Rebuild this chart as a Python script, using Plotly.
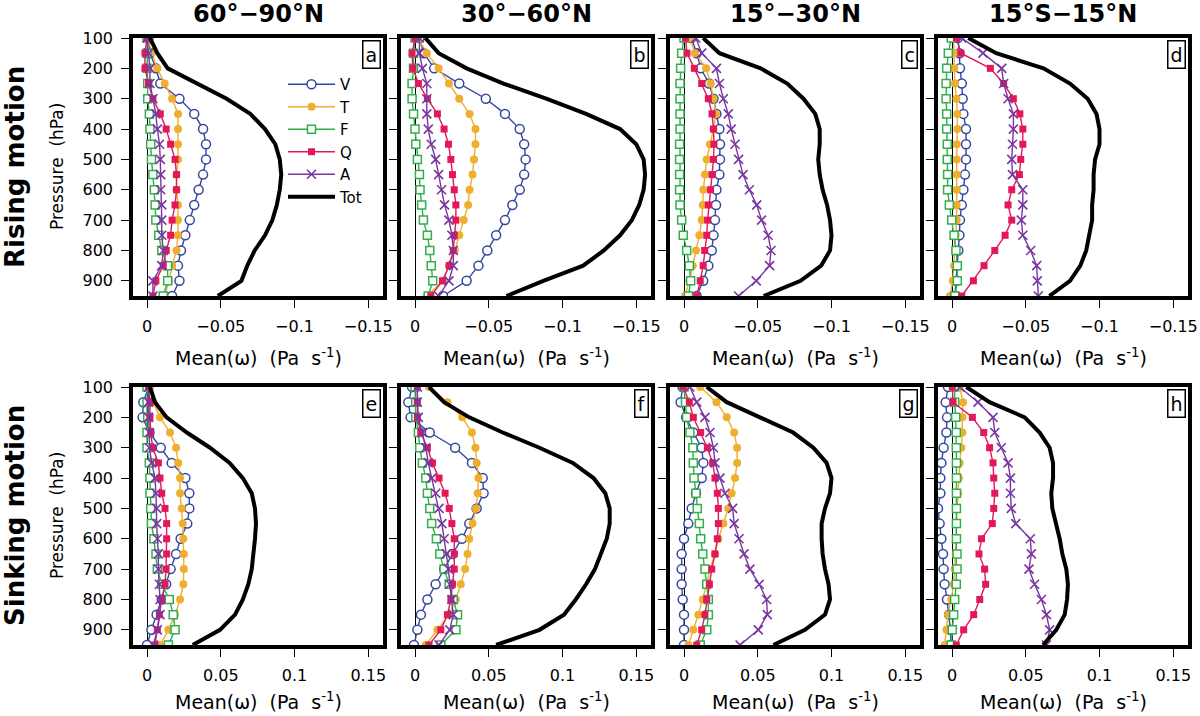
import plotly.graph_objects as go
from plotly.subplots import make_subplots

# pressure levels (hPa)
levels = [100, 150, 200, 250, 300, 350, 400, 450, 500, 550, 600, 650, 700, 750, 800, 850, 900, 950]

# --- Rising motion (Pa s-1, negative) ---
a_V = [-0.001, -0.002, -0.006, -0.009, -0.022, -0.032, -0.038, -0.040, -0.040, -0.038, -0.035, -0.032, -0.029, -0.026, -0.023, -0.021, -0.022, -0.017]
a_T = [-0.001, -0.003, -0.007, -0.012, -0.017, -0.021, -0.021, -0.021, -0.021, -0.020, -0.020, -0.021, -0.021, -0.021, -0.020, -0.017, -0.015, -0.012]
a_F = [0.0, 0.0, 0.0, -0.0005, -0.0005, -0.0016, -0.002, -0.0025, -0.003, -0.004, -0.005, -0.0055, -0.006, -0.008, -0.010, -0.014, -0.014, -0.011]
a_Q = [0.0, 0.0014, 0.0014, -0.001, -0.004, -0.009, -0.013, -0.016, -0.019, -0.020, -0.020, -0.019, -0.017, -0.016, -0.013, -0.011, -0.006, -0.004]
a_A = [0.0, -0.001, -0.002, -0.002, -0.004, -0.006, -0.007, -0.0085, -0.009, -0.0093, -0.0093, -0.010, -0.010, -0.010, -0.011, -0.010, -0.004, -0.004]
a_Tot = [-0.002, -0.007, -0.014, -0.034, -0.054, -0.070, -0.080, -0.087, -0.090, -0.091, -0.090, -0.088, -0.085, -0.080, -0.073, -0.068, -0.064, -0.048]

b_V = [-0.003, -0.006, -0.013, -0.030, -0.048, -0.061, -0.071, -0.074, -0.075, -0.074, -0.071, -0.066, -0.061, -0.055, -0.049, -0.043, -0.035, -0.019]
b_T = [-0.002, -0.008, -0.016, -0.023, -0.030, -0.037, -0.041, -0.041, -0.040, -0.039, -0.037, -0.036, -0.033, -0.030, -0.027, -0.023, -0.019, -0.008]
b_F = [0.0, 0.001, 0.001, 0.002, 0.002, 0.001, 0.0, -0.0005, -0.0016, -0.003, -0.0034, -0.0045, -0.0057, -0.0084, -0.010, -0.011, -0.012, -0.009]
b_Q = [0.0, 0.002, 0.0014, -0.0023, -0.0084, -0.0152, -0.0197, -0.0227, -0.0243, -0.0254, -0.0266, -0.0277, -0.0277, -0.0266, -0.0259, -0.0232, -0.0186, -0.0107]
b_A = [-0.003, -0.003, -0.005, -0.008, -0.008, -0.008, -0.009, -0.011, -0.014, -0.016, -0.018, -0.020, -0.023, -0.025, -0.026, -0.026, -0.023, -0.016]
b_Tot = [-0.007, -0.016, -0.035, -0.060, -0.089, -0.116, -0.139, -0.150, -0.155, -0.156, -0.155, -0.152, -0.147, -0.139, -0.128, -0.114, -0.087, -0.062]

c_V = [-0.005, -0.0086, -0.0113, -0.017, -0.020, -0.022, -0.024, -0.0244, -0.0244, -0.024, -0.022, -0.0217, -0.021, -0.020, -0.0188, -0.0165, -0.013, -0.0086]
c_T = [-0.004, -0.0075, -0.015, -0.018, -0.020, -0.0217, -0.020, -0.0176, -0.0154, -0.0142, -0.0131, -0.0127, -0.012, -0.0104, -0.0081, -0.0059, -0.0036, -0.0007]
c_F = [0.0, 0.0016, 0.0023, 0.0027, 0.0027, 0.0027, 0.0027, 0.003, 0.003, 0.003, 0.003, 0.0027, 0.0016, 0.0005, -0.0018, -0.0036, -0.0045, -0.003]
c_Q = [-0.001, -0.002, -0.007, -0.012, -0.0165, -0.019, -0.020, -0.0203, -0.020, -0.019, -0.018, -0.0165, -0.016, -0.0154, -0.014, -0.013, -0.011, -0.0086]
c_A = [-0.008, -0.012, -0.022, -0.024, -0.0267, -0.030, -0.032, -0.0346, -0.037, -0.040, -0.0443, -0.0493, -0.0526, -0.057, -0.059, -0.058, -0.049, -0.037]
c_Tot = [-0.013, -0.024, -0.052, -0.070, -0.081, -0.089, -0.092, -0.092, -0.091, -0.092, -0.094, -0.097, -0.099, -0.100, -0.099, -0.093, -0.079, -0.054]

d_V = [-0.004, -0.005, -0.0054, -0.0066, -0.0072, -0.0077, -0.0095, -0.0095, -0.0095, -0.0088, -0.0077, -0.0066, -0.0054, -0.005, -0.0043, -0.0032, -0.003, -0.002]
d_T = [-0.001, -0.0015, -0.0015, -0.002, -0.003, -0.0036, -0.0036, -0.0032, -0.0032, -0.0032, -0.0032, -0.0032, -0.0032, -0.0025, -0.002, -0.0014, -0.0005, 0.0014]
d_F = [0.0005, 0.0025, 0.0036, 0.004, 0.004, 0.0036, 0.0036, 0.0032, 0.0032, 0.003, 0.003, 0.0018, 0.0002, -0.0014, -0.0027, -0.0036, -0.0036, -0.002]
d_Q = [-0.003, -0.006, -0.026, -0.035, -0.0416, -0.046, -0.048, -0.048, -0.0466, -0.0457, -0.0405, -0.038, -0.0405, -0.036, -0.029, -0.0217, -0.0145, -0.0066]
d_A = [-0.0066, -0.021, -0.0337, -0.035, -0.038, -0.0416, -0.0416, -0.041, -0.0405, -0.041, -0.048, -0.048, -0.047, -0.048, -0.0533, -0.0574, -0.0578, -0.0585]
d_Tot = [-0.011, -0.030, -0.062, -0.080, -0.092, -0.098, -0.100, -0.100, -0.097, -0.096, -0.096, -0.095, -0.095, -0.093, -0.091, -0.087, -0.080, -0.066]

# --- Sinking motion (Pa s-1, positive) ---
e_V = [0.001, -0.0025, -0.003, 0.0016, 0.0093, 0.0167, 0.026, 0.0287, 0.0287, 0.0273, 0.0228, 0.0197, 0.016, 0.013, 0.010, 0.0065, 0.003, 0.0]
e_T = [0.002, 0.0043, 0.0088, 0.0156, 0.0197, 0.0212, 0.0224, 0.0224, 0.0235, 0.0242, 0.0246, 0.025, 0.025, 0.0246, 0.0224, 0.019, 0.0145, 0.0088]
e_F = [0.0, 0.0, 0.0005, 0.0, 0.0, 0.0016, 0.002, 0.002, 0.0025, 0.003, 0.0047, 0.0061, 0.007, 0.010, 0.0151, 0.0178, 0.019, 0.0145]
e_Q = [0.001, 0.002, 0.002, 0.0025, 0.0038, 0.0077, 0.0088, 0.010, 0.0122, 0.0133, 0.0133, 0.0133, 0.0129, 0.0122, 0.010, 0.0084, 0.007, 0.0054]
e_A = [0.001, 0.001, 0.001, 0.0016, 0.0016, 0.0032, 0.0054, 0.0061, 0.0066, 0.0066, 0.007, 0.0077, 0.0077, 0.0084, 0.0088, 0.0088, 0.007, 0.0043]
e_Tot = [0.002, 0.0054, 0.0133, 0.027, 0.0427, 0.056, 0.065, 0.071, 0.0732, 0.0739, 0.0732, 0.072, 0.071, 0.0687, 0.065, 0.0597, 0.0495, 0.031]

f_V = [-0.002, -0.0045, -0.003, 0.010, 0.0272, 0.0386, 0.0459, 0.0465, 0.0418, 0.0368, 0.0318, 0.0254, 0.0198, 0.014, 0.0084, 0.004, 0.0016, -0.0007]
f_T = [0.0095, 0.022, 0.032, 0.0386, 0.041, 0.0418, 0.043, 0.0425, 0.0413, 0.039, 0.0368, 0.0356, 0.034, 0.031, 0.0277, 0.0232, 0.0152, 0.0073]
f_F = [0.0, 0.0005, 0.0005, 0.0023, 0.0032, 0.005, 0.0073, 0.0084, 0.010, 0.0113, 0.0145, 0.0168, 0.0197, 0.0232, 0.0259, 0.0288, 0.0277, 0.0175]
f_Q = [0.0016, 0.0016, 0.0016, 0.0039, 0.0084, 0.0118, 0.0163, 0.0204, 0.0232, 0.025, 0.0266, 0.0266, 0.0266, 0.0254, 0.0243, 0.022, 0.0175, 0.0095]
f_A = [0.0016, 0.0016, 0.0023, 0.005, 0.0073, 0.009, 0.0113, 0.0141, 0.0163, 0.0182, 0.0197, 0.0213, 0.0227, 0.0236, 0.025, 0.0259, 0.0236, 0.0163]
f_Tot = [0.0095, 0.0197, 0.0368, 0.0595, 0.0844, 0.107, 0.121, 0.129, 0.132, 0.132, 0.130, 0.126, 0.122, 0.116, 0.109, 0.101, 0.0844, 0.055]

g_V = [-0.001, -0.0023, 0.0014, 0.0063, 0.012, 0.0131, 0.012, 0.0081, 0.0052, 0.0029, 0.0, -0.0016, -0.0016, -0.0016, -0.0009, 0.0, 0.0, 0.0]
g_T = [0.011, 0.022, 0.029, 0.034, 0.036, 0.036, 0.0346, 0.0323, 0.030, 0.0267, 0.0233, 0.021, 0.0176, 0.0154, 0.0127, 0.0097, 0.0063, 0.003]
g_F = [0.0, 0.001, 0.0018, 0.004, 0.006, 0.0063, 0.0068, 0.0081, 0.009, 0.0104, 0.0113, 0.0127, 0.0142, 0.0154, 0.0165, 0.0165, 0.0154, 0.011]
g_Q = [-0.0005, 0.0036, 0.0063, 0.0113, 0.0158, 0.0194, 0.021, 0.0226, 0.0233, 0.0233, 0.0226, 0.021, 0.0188, 0.0172, 0.0154, 0.0142, 0.012, 0.0086]
g_A = [0.004, 0.0086, 0.0142, 0.0176, 0.0199, 0.021, 0.0244, 0.0278, 0.033, 0.034, 0.0373, 0.0407, 0.0447, 0.051, 0.056, 0.0565, 0.0504, 0.038]
g_Tot = [0.0154, 0.029, 0.0515, 0.074, 0.0877, 0.0967, 0.100, 0.099, 0.0956, 0.0933, 0.0933, 0.094, 0.0956, 0.098, 0.099, 0.0956, 0.082, 0.0606]

h_V = [-0.0027, -0.0043, -0.0034, -0.0038, -0.0057, -0.0072, -0.0079, -0.0079, -0.0095, -0.0084, -0.0072, -0.0061, -0.0057, -0.005, -0.0034, -0.002, -0.0011, -0.0005]
h_T = [0.0052, 0.0075, 0.007, 0.007, 0.0063, 0.0052, 0.0047, 0.0041, 0.0034, 0.0029, 0.0029, 0.0025, 0.0018, 0.0011, -0.0005, -0.0027, -0.0038, -0.005]
h_F = [0.0018, 0.0018, 0.0025, 0.0029, 0.0029, 0.003, 0.003, 0.003, 0.003, 0.003, 0.003, 0.0034, 0.0034, 0.0029, 0.0018, 0.0011, 0.0002, -0.0005]
h_Q = [0.0002, 0.0007, 0.0138, 0.0215, 0.0255, 0.0278, 0.0283, 0.029, 0.0283, 0.0273, 0.020, 0.0183, 0.0221, 0.0228, 0.0188, 0.0147, 0.0079, 0.0029]
h_A = [0.0052, 0.0176, 0.0278, 0.029, 0.0334, 0.038, 0.0396, 0.0396, 0.0402, 0.0432, 0.0531, 0.0538, 0.0522, 0.056, 0.0606, 0.064, 0.0662, 0.064]
h_Tot = [0.0097, 0.0255, 0.0493, 0.0594, 0.0662, 0.0685, 0.0685, 0.0673, 0.068, 0.0707, 0.073, 0.0748, 0.0775, 0.0786, 0.078, 0.0764, 0.0707, 0.0617]

col_titles = ["60°−90°N", "30°−60°N", "15°−30°N", "15°S−15°N"]
row_titles = ["Rising motion", "Sinking motion"]
panel_letters = ["a", "b", "c", "d", "e", "f", "g", "h"]
y_ticks = [100, 200, 300, 400, 500, 600, 700, 800, 900]
x_ticks_rise = [0, -0.05, -0.1, -0.15]
x_ticks_sink = [0, 0.05, 0.1, 0.15]

panels = [
    [a_V, a_T, a_F, a_Q, a_A, a_Tot], [b_V, b_T, b_F, b_Q, b_A, b_Tot],
    [c_V, c_T, c_F, c_Q, c_A, c_Tot], [d_V, d_T, d_F, d_Q, d_A, d_Tot],
    [e_V, e_T, e_F, e_Q, e_A, e_Tot], [f_V, f_T, f_F, f_Q, f_A, f_Tot],
    [g_V, g_T, g_F, g_Q, g_A, g_Tot], [h_V, h_T, h_F, h_Q, h_A, h_Tot],
]

names = ["V", "T", "F", "Q", "A", "Tot"]
colors = ["#33479e", "#f0ae2e", "#2fb04a", "#e2185a", "#7a36a0", "black"]

FONT = "DejaVu Sans"
W, H = 1200, 716

# panel pixel boxes
col_px = [(133, 383), (401, 651), (670, 920), (938, 1188)]
row_px = [(38, 296), (387, 645)]
xtitle_gap = [61, 56]

fig = make_subplots(rows=2, cols=4)

def style(i):
    c = colors[i]
    if names[i] == "V":
        return dict(mode="lines+markers", line=dict(color=c, width=1.4),
                    marker=dict(symbol="circle", size=9, color="white", line=dict(color=c, width=1.5)))
    if names[i] == "T":
        return dict(mode="lines+markers", line=dict(color=c, width=1.4),
                    marker=dict(symbol="circle", size=8, color=c))
    if names[i] == "F":
        return dict(mode="lines+markers", line=dict(color=c, width=1.4),
                    marker=dict(symbol="square", size=8, color="white", line=dict(color=c, width=1.5)))
    if names[i] == "Q":
        return dict(mode="lines+markers", line=dict(color=c, width=1.4),
                    marker=dict(symbol="square", size=7, color=c))
    if names[i] == "A":
        return dict(mode="lines+markers", line=dict(color=c, width=1.4),
                    marker=dict(symbol="x-thin-open", size=9, color=c, line=dict(color=c, width=1.6)))
    return dict(mode="lines", line=dict(color=c, width=4))

for k, series in enumerate(panels):
    r, cc = k // 4 + 1, k % 4 + 1
    for i, vals in enumerate(series):
        fig.add_trace(go.Scatter(x=vals, y=levels, name=names[i], showlegend=(k == 0),
                                 **style(i)), row=r, col=cc)

annotations = []
for k in range(8):
    r, cc = k // 4, k % 4
    x0, x1 = col_px[cc]
    y0, y1 = row_px[r]
    xd = [x0 / W, x1 / W]
    yd = [1 - y1 / H, 1 - y0 / H]
    rise = r == 0
    fig.update_xaxes(row=r + 1, col=cc + 1, domain=xd, automargin=False,
                     range=[0.0095, -0.16] if rise else [-0.0095, 0.16],
                     tickvals=x_ticks_rise if rise else x_ticks_sink,
                     ticks="outside", ticklen=8, tickwidth=1.2, tickcolor="black", ticklabelstandoff=5,
                     showline=True, linewidth=3.5, linecolor="black", mirror=True,
                     showgrid=False, zeroline=True, zerolinecolor="black", zerolinewidth=1,
                     tickfont=dict(family=FONT, size=16, color="black"))
    fig.update_yaxes(row=r + 1, col=cc + 1, domain=yd, range=[950, 100], automargin=False,
                     tickvals=y_ticks, showticklabels=(cc == 0),
                     ticks="outside", ticklen=8, tickwidth=1.2, tickcolor="black", ticklabelstandoff=5,
                     showline=True, linewidth=3.5, linecolor="black", mirror=True,
                     showgrid=False, zeroline=False,
                     tickfont=dict(family=FONT, size=16, color="black"))
    # panel letter box
    annotations.append(dict(text=panel_letters[k], x=x1 / W, y=1 - y0 / H, xref="paper", yref="paper",
                            xanchor="right", yanchor="top", xshift=-2, yshift=-2, showarrow=False,
                            bgcolor="white", bordercolor="black", borderwidth=1.5, borderpad=2,
                            font=dict(family=FONT, size=19, color="black")))
    # x axis title
    annotations.append(dict(text="Mean(ω)  (Pa  s<sup>-1</sup>)", x=(x0 + x1) / 2 / W,
                            y=1 - (y1 + xtitle_gap[r]) / H, xref="paper", yref="paper", showarrow=False,
                            xanchor="center", yanchor="middle",
                            font=dict(family=FONT, size=19, color="black")))

for cc, t in enumerate(col_titles):
    x0, x1 = col_px[cc]
    annotations.append(dict(text="<b>" + t + "</b>", x=(x0 + x1) / 2 / W, y=1 - 14 / H,
                            xref="paper", yref="paper", showarrow=False, xanchor="center",
                            yanchor="middle", font=dict(family=FONT, size=24, color="black")))

for r, t in enumerate(row_titles):
    y0, y1 = row_px[r]
    annotations.append(dict(text="<b>" + t + "</b>", x=15 / W, y=1 - (y0 + y1) / 2 / H,
                            xref="paper", yref="paper", showarrow=False, textangle=-90,
                            xanchor="center", yanchor="middle",
                            font=dict(family=FONT, size=26, color="black")))
    annotations.append(dict(text="Pressure  (hPa)", x=57 / W, y=1 - (y0 + y1) / 2 / H,
                            xref="paper", yref="paper", showarrow=False, textangle=-90,
                            xanchor="center", yanchor="middle",
                            font=dict(family=FONT, size=17, color="black")))

fig.update_layout(
    width=W, height=H, margin=dict(l=0, r=0, t=0, b=0, autoexpand=False),
    paper_bgcolor="white", plot_bgcolor="white",
    annotations=annotations,
    legend=dict(x=283 / W, y=1 - 68 / H, xanchor="left", yanchor="top",
                bgcolor="rgba(0,0,0,0)", borderwidth=0, tracegroupgap=0, itemwidth=47,
                font=dict(family=FONT, size=15, color="black")),
)

pin_script = (
    "document.body.style.margin='0px';"
    "var gd=document.getElementById('{plot_id}');"
    "gd.style.position='absolute';gd.style.left='0px';gd.style.top='0px';"
)
fig.write_html("out.html", config={"displayModeBar": False}, post_script=pin_script)
